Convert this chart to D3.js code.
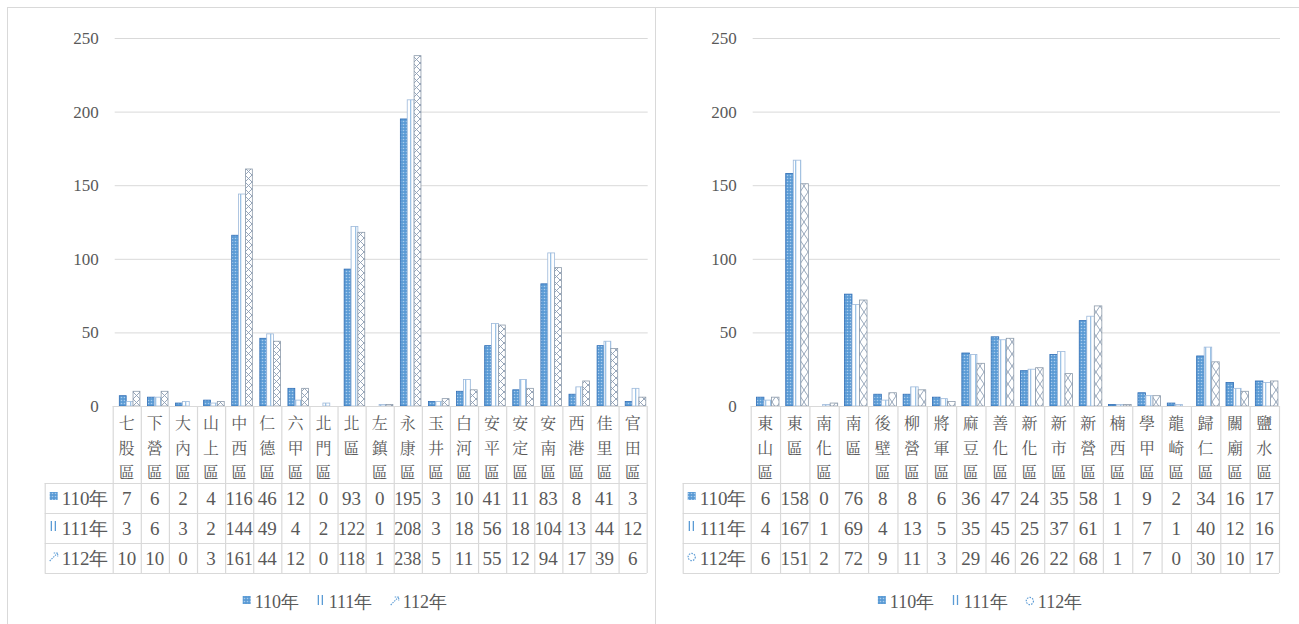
<!DOCTYPE html>
<html><head><meta charset="utf-8">
<script src="https://cdn.jsdelivr.net/npm/d3@7/dist/d3.min.js"></script>
</head><body style="margin:0">
<svg id="c" width="1299" height="624" font-family="Liberation Serif"></svg>
<script>
const seriesNames = ["110年","111年","112年"];
const yTicks = [0,50,100,150,200,250];

const catsLeft = ["七股區","下營區","大內區","山上區","中西區","仁德區","六甲區","北門區","北區","左鎮區","永康區","玉井區","白河區","安平區","安定區","安南區","西港區","佳里區","官田區"];
const left110 = [7,6,2,4,116,46,12,0,93,0,195,3,10,41,11,83,8,41,3];
const left111 = [3,6,3,2,144,49,4,2,122,1,208,3,18,56,18,104,13,44,12];
const left112 = [10,10,0,3,161,44,12,0,118,1,238,5,11,55,12,94,17,39,6];

const catsRight = ["東山區","東區","南化區","南區","後壁區","柳營區","將軍區","麻豆區","善化區","新化區","新市區","新營區","楠西區","學甲區","龍崎區","歸仁區","關廟區","鹽水區"];
const right110 = [6,158,0,76,8,8,6,36,47,24,35,58,1,9,2,34,16,17];
const right111 = [4,167,1,69,4,13,5,35,45,25,37,61,1,7,1,40,12,16];
const right112 = [6,151,2,72,9,11,3,29,46,26,22,68,1,7,0,30,10,17];

const FONT = "Liberation Serif";
const CJK = "Noto Serif CJK TC";
const TXT = "#595959";

const svg = d3.select("#c");
const defs = svg.append("defs");
const p0 = defs.append("pattern").attr("id","p110").attr("patternUnits","userSpaceOnUse").attr("width",3).attr("height",3);
p0.append("rect").attr("width",3).attr("height",3).attr("fill","#5B9BD5");
p0.append("circle").attr("cx",1.5).attr("cy",1.5).attr("r",0.8).attr("fill","#A9CCEE");
const p1 = defs.append("pattern").attr("id","p111").attr("patternUnits","userSpaceOnUse").attr("width",5).attr("height",4);
p1.append("rect").attr("width",5).attr("height",4).attr("fill","#ffffff");
p1.append("rect").attr("x",0).attr("width",1.3).attr("height",4).attr("fill","#9DC3E6");
const p2 = defs.append("pattern").attr("id","p112a").attr("patternUnits","userSpaceOnUse").attr("width",7).attr("height",7);
p2.append("rect").attr("width",7).attr("height",7).attr("fill","#ffffff");
p2.append("path").attr("d","M0,0L7,7M7,0L0,7").attr("stroke","#8C9DB3").attr("stroke-width",0.9);
const p3 = defs.append("pattern").attr("id","p112b").attr("patternUnits","userSpaceOnUse").attr("width",8).attr("height",12);
p3.append("rect").attr("width",8).attr("height",12).attr("fill","#ffffff");
p3.append("path").attr("d","M0,0L8,12M8,0L0,12").attr("stroke","#8C9DB3").attr("stroke-width",0.9);

svg.append("rect").attr("x",7.5).attr("y",7.5).attr("width",648).attr("height",640).attr("fill","none").attr("stroke","#d9d9d9");
svg.append("line").attr("x1",655.5).attr("x2",1299).attr("y1",7.5).attr("y2",7.5).attr("stroke","#d9d9d9");

function txt(g, x, y, s, size, fam){
  return g.append("text").attr("x",x).attr("y",y).attr("font-size",size)
    .attr("font-family",fam||FONT).attr("fill",TXT).text(s);
}

function drawPanel(cfg){
  const {cats, vals, x0, x1, subFrom, subTo, pat3, legendIcon3} = cfg;
  const g = svg.append("g").attr("font-family",FONT);
  const x = d3.scaleBand().domain(cats).range([x0,x1]).padding(0);
  const bw = x.bandwidth();
  const xs = d3.scaleBand().domain(seriesNames).range([bw*subFrom, bw*subTo]).padding(0);
  const y = d3.scaleLinear().domain([0,250]).range([406,38]);
  const gridL = x0 + 2, gridR = x1 + 1;
  g.selectAll(".grid").data(yTicks.filter(d=>d>0)).join("line")
    .attr("x1",gridL).attr("x2",gridR).attr("y1",d=>y(d)+0.5).attr("y2",d=>y(d)+0.5)
    .attr("stroke","#d9d9d9").attr("stroke-width",1);
  const ax = g.append("g").attr("transform",`translate(${x0},0)`)
    .call(d3.axisLeft(y).tickValues(yTicks).tickSize(0).tickPadding(14));
  ax.attr("font-family",FONT).attr("font-size",17);
  ax.select(".domain").remove();
  ax.selectAll("text").attr("font-family",FONT).attr("fill",TXT);
  const pats = ["url(#p110)","url(#p111)",pat3];
  const strokes = ["#2F6DB5","#9DB9DA","#8C9AAA"];
  seriesNames.forEach((s,si)=>{
    g.append("g").selectAll("rect").data(cats.map((c,i)=>({c,v:vals[si][i]}))).join("rect")
      .attr("x",d=>x(d.c)+xs(s))
      .attr("width",xs.bandwidth())
      .attr("y",d=>y(d.v))
      .attr("height",d=>y(0)-y(d.v))
      .attr("fill",pats[si]).attr("stroke",strokes[si]).attr("stroke-width",0.8);
  });
  const lineC = "#d9d9d9";
  const labelL = x0 - 68;
  const rowsY = [483,513,543,573];
  g.append("line").attr("x1",x0).attr("x2",x1).attr("y1",406.5).attr("y2",406.5).attr("stroke",lineC);
  rowsY.forEach(ry=>{
    g.append("line").attr("x1",labelL).attr("x2",x1).attr("y1",ry+0.5).attr("y2",ry+0.5).attr("stroke",lineC).attr("stroke-width",1.2);
  });
  g.append("line").attr("x1",labelL+0.5).attr("x2",labelL+0.5).attr("y1",483).attr("y2",573).attr("stroke",lineC).attr("stroke-width",1.2);
  g.selectAll(".vl").data(cats.concat(["_end"])).join("line")
    .attr("x1",(d,i)=>x0+i*bw+0.5).attr("x2",(d,i)=>x0+i*bw+0.5)
    .attr("y1",406).attr("y2",573).attr("stroke",lineC).attr("stroke-width",1.2);
  cats.forEach(c=>{
    Array.from(c).forEach((ch,k)=>{
      txt(g, x(c)+bw/2, 429+k*24.5, ch, 16, CJK).attr("text-anchor","middle");
    });
  });
  seriesNames.forEach((s,si)=>{
    const ry = rowsY[si];
    g.append("g").selectAll("text").data(cats.map((c,i)=>({c,v:vals[si][i]}))).join("text")
      .attr("x",d=>x(d.c)+bw/2).attr("y",ry+22)
      .attr("text-anchor","middle").attr("font-size",19)
      .attr("font-family",FONT).attr("fill",TXT)
      .attr("textLength",d=>String(d.v).length>=3?bw-1:null)
      .attr("lengthAdjust","spacingAndGlyphs")
      .text(d=>d.v);
    drawIcon(g, si, labelL+5, ry+9, legendIcon3);
    txt(g, labelL+17, ry+22, s, 19);
  });
  const cx = (labelL + x1)/2;
  const offs = [-103,-29,45];
  seriesNames.forEach((s,si)=>{
    drawIcon(g, si, cx+offs[si], 596, legendIcon3);
    txt(g, cx+offs[si]+12, 608, s, 18);
  });
}

function drawIcon(g, si, x, y, icon3){
  if(si===0){
    g.append("rect").attr("x",x).attr("y",y).attr("width",8).attr("height",8).attr("fill","url(#p110)");
  } else if(si===1){
    g.append("rect").attr("x",x+1).attr("y",y-1).attr("width",1.3).attr("height",10).attr("fill","#5B9BD5");
    g.append("rect").attr("x",x+5).attr("y",y-1).attr("width",1.3).attr("height",10).attr("fill","#5B9BD5");
  } else {
    if(icon3==="arrow"){
      g.append("path").attr("d",`M${x},${y+9}L${x+8},${y+1}M${x+4},${y+1}L${x+8},${y+1}L${x+8},${y+5}`)
        .attr("stroke","#5B9BD5").attr("stroke-width",1.1).attr("fill","none").attr("stroke-dasharray","1.5,1");
    } else {
      g.append("circle").attr("cx",x+4).attr("cy",y+5).attr("r",3.6)
        .attr("stroke","#5B9BD5").attr("stroke-width",1.2).attr("fill","none").attr("stroke-dasharray","1.5,1.2");
    }
  }
}

drawPanel({cats:catsLeft, vals:[left110,left111,left112], x0:112.7, x1:646.7, subFrom:0.235, subTo:0.968, pat3:"url(#p112a)", legendIcon3:"arrow"});
drawPanel({cats:catsRight, vals:[right110,right111,right112], x0:750.7, x1:1279, subFrom:0.194, subTo:0.964, pat3:"url(#p112b)", legendIcon3:"circle"});
</script>
</body></html>
